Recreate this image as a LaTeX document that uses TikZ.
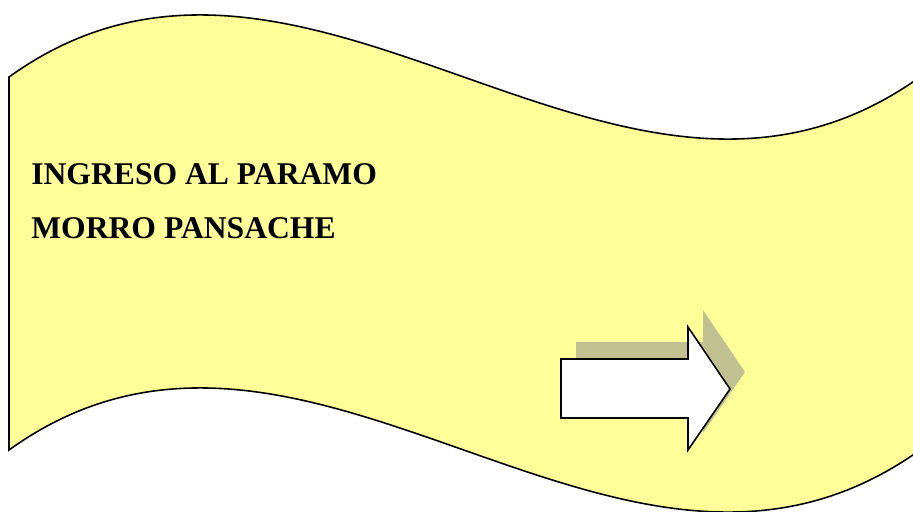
\documentclass[tikz,border=0pt]{standalone}
\usepackage{fontspec}
\setmainfont{Liberation Serif}
\definecolor{bannerYellow}{RGB}{255,255,153}
\definecolor{shadowGray}{RGB}{192,192,144}
\newcommand{\arrowOutline}{(561,359) -- (688,359) -- (688,327) -- (730,389) -- (688,450) -- (688,418) -- (561,418) -- cycle}
\begin{document}
\begin{tikzpicture}[x=0.2mm, y=-0.2mm,
    banner text/.style={anchor=base west, inner sep=0pt, font=\fontsize{18}{18}\selectfont\bfseries}]
    \useasboundingbox (0,0) rectangle (913,511);

    % wave banner
    \draw [fill=bannerYellow, line width=0.9pt] (9,77) .. controls (308,-138) and (619,292) .. (920,77)
        -- (920,450) .. controls (619,665) and (308,235) .. (9,450) -- cycle;

    \node [banner text] (ingreso) at (31,184) {INGRESO AL PARAMO};
    \node [banner text] (morro) at (31,238) {MORRO PANSACHE};

    % block arrow with its shadow
    \fill [shadowGray, shift={(15,-17)}] \arrowOutline;
    \draw [fill=white, line width=0.9pt, line join=miter] \arrowOutline;
\end{tikzpicture}
\end{document}
